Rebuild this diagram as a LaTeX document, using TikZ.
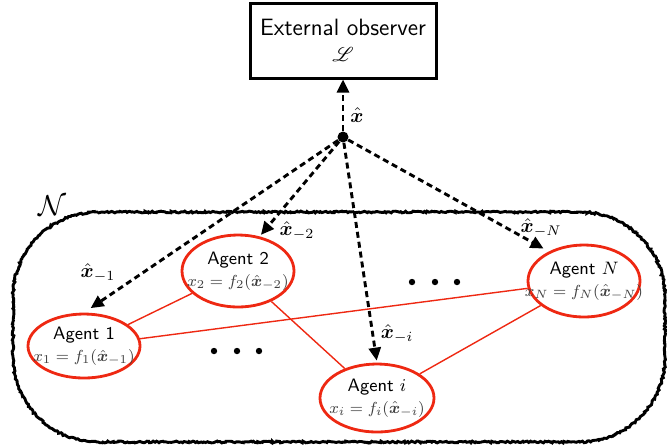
\documentclass[tikz,border=0pt]{standalone}
\usepackage{bm}
\usepackage{mathrsfs}
\usetikzlibrary{arrows.meta,shapes.geometric,decorations.pathmorphing}
\definecolor{agentred}{RGB}{238,40,18}
\begin{document}
\begin{tikzpicture}[x=0.5pt,y=0.5pt,
  agent/.style={ellipse, draw=agentred, line width=1.4pt, inner sep=-12pt,
    minimum width=56pt, minimum height=35pt, align=center,
    font=\fontsize{9}{10.5}\selectfont},
  obsbox/.style={draw, line width=1.5pt, minimum width=93pt, minimum height=37.5pt,
    align=center, inner sep=0pt},
  hubdot/.style={circle, fill=black, inner sep=0pt, minimum size=5.5pt},
  msg/.style={line width=1.45pt, dash pattern=on 3pt off 2pt,
    -{Triangle[length=6.5pt,width=6pt]}},
  link/.style={draw=agentred, line width=0.7pt},
  lbl/.style={inner sep=0pt, font=\fontsize{10}{12}\selectfont},
  rough/.style={line width=1.45pt, decorate,
    decoration={random steps, segment length=0.8pt, amplitude=0.45pt}},
  dotmark/.style={fill=black}
]
\useasboundingbox (0,0) rectangle (667,-446);

% group boundary
\draw[rough] (98,-212) -- (580,-212) arc[start angle=90,end angle=0,radius=42.5pt]
  -- (665,-357) arc[start angle=0,end angle=-90,radius=42.5pt]
  -- (98,-442) arc[start angle=270,end angle=180,radius=42.5pt]
  -- (13,-297) arc[start angle=180,end angle=90,radius=42.5pt] -- cycle;
\node[inner sep=0pt, font=\Large] (setN) at (52,-206) {$\mathcal{N}$};

% observer
\node[obsbox] (obs) at (343,-40.5)
  {\fontsize{11.8}{13.5}\selectfont\sffamily External observer\\[1pt] $\mathscr{L}$};
\node[hubdot] (hub) at (343,-137) {};

% agents
\node[agent, minimum height=32pt] (a1) at (84,-346)
  {\sffamily Agent 1\\[0.5pt] \fontsize{8.4}{10}\selectfont\color{black!75}$x_1 = f_1(\hat{\bm x}_{-1})$};
\node[agent, minimum height=36pt] (a2) at (238,-271)
  {\sffamily Agent 2\\[0.5pt] \fontsize{8.4}{10}\selectfont\color{black!75}$x_2 = f_2(\hat{\bm x}_{-2})$};
\node[agent, minimum height=34pt, minimum width=57pt] (ai) at (377,-398)
  {\sffamily Agent $i$\\[0.5pt] \fontsize{8.4}{10}\selectfont\color{black!75}$x_i = f_i(\hat{\bm x}_{-i})$};
\node[agent, minimum height=36pt] (aN) at (584,-281)
  {\sffamily Agent $N$\\[0.5pt] \fontsize{8.4}{10}\selectfont\color{black!75}$x_N = f_N(\hat{\bm x}_{-N})$};

% links between agents
\draw[link] (a1) -- (a2);
\draw[link] (a1) -- (aN);
\draw[link] (a2) -- (ai);
\draw[link] (ai) -- (aN);

% messages
\draw[msg] (hub) -- (obs.south);
\draw[msg, shorten >=4pt] (hub) -- (a1.north);
\draw[msg, shorten >=1pt] (hub) -- (a2.58);
\draw[msg, shorten >=1pt] (hub) -- (ai.north);
\draw[msg, shorten >=3pt] (hub) -- (aN.140);

% labels
\node[lbl] (lx) at (357,-115) {$\hat{\bm x}$};
\node[lbl] (l1) at (98,-273) {$\hat{\bm x}_{-1}$};
\node[lbl] (l2) at (297,-231) {$\hat{\bm x}_{-2}$};
\node[lbl] (li) at (397,-334) {$\hat{\bm x}_{-i}$};
\node[lbl] (lN) at (541,-228) {$\hat{\bm x}_{-N}$};

% ellipsis dots
\foreach \x in {214,237,259} \fill[dotmark] (\x,-351) circle[radius=1.6pt];
\foreach \x in {412,435,457} \fill[dotmark] (\x,-282) circle[radius=1.6pt];
\end{tikzpicture}
\end{document}
